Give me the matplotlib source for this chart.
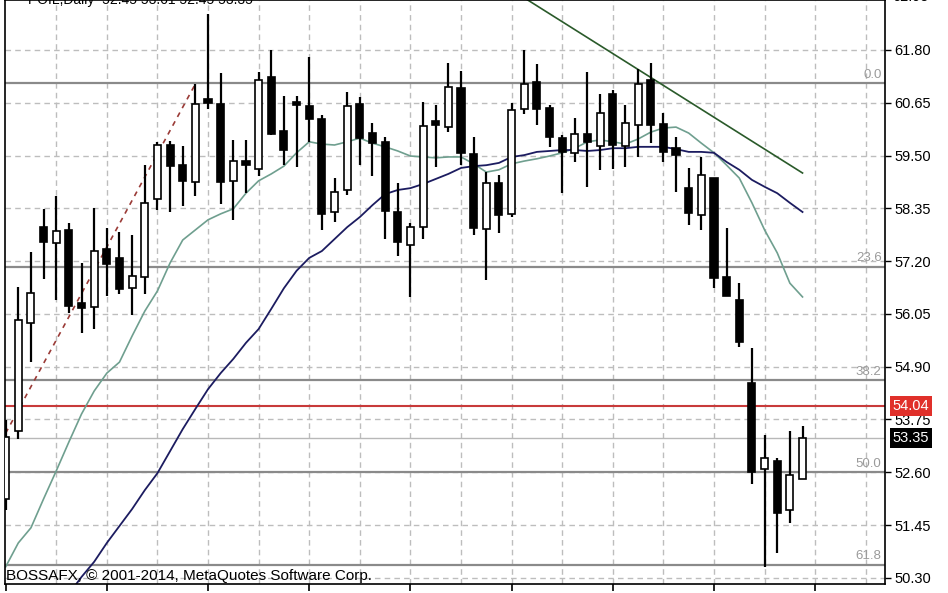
import matplotlib.pyplot as plt
import numpy as np
from matplotlib.patches import Rectangle

# daily candles (open, high, low, close)
opens = [52.02, 53.50, 55.85, 57.94, 57.60, 57.88, 56.29, 56.20, 57.46, 57.27,
         56.61, 56.85, 58.55, 59.73, 59.29, 58.92, 60.73, 60.62, 58.95, 59.38,
         59.21, 61.21, 60.04, 60.67, 60.58, 60.30, 58.27, 58.75, 60.62, 59.99,
         59.80, 58.27, 57.55, 57.94, 60.25, 60.12, 60.97, 59.53, 57.90, 58.90,
         58.23, 60.51, 61.10, 60.54, 59.88, 59.56, 59.97, 59.71, 60.84, 59.71,
         60.17, 61.15, 60.19, 59.66, 58.79, 58.21, 59.01, 56.85, 56.35, 54.54,
         52.67, 52.85, 51.78, 52.45]
highs = [53.74, 56.64, 57.40, 58.34, 58.62, 58.03, 57.16, 58.36, 57.92, 57.84,
         57.77, 59.29, 59.80, 59.82, 59.71, 61.06, 62.58, 61.30, 59.84, 59.84,
         61.32, 61.80, 60.80, 60.80, 61.65, 60.38, 59.01, 60.89, 60.78, 60.21,
         59.90, 58.90, 58.03, 60.67, 60.60, 61.52, 61.34, 59.90, 59.14, 59.08,
         60.65, 61.80, 61.50, 60.60, 59.95, 60.32, 61.32, 60.84, 60.93, 60.60,
         61.39, 61.52, 60.43, 59.90, 59.23, 59.47, 59.01, 57.92, 56.72, 55.31,
         53.41, 52.91, 53.50, 53.61]
lows = [51.78, 53.33, 55.00, 56.81, 56.35, 56.07, 55.63, 55.72, 56.44, 56.48,
        56.03, 56.48, 58.31, 58.27, 58.40, 58.62, 60.51, 58.44, 58.10, 58.68,
        59.06, 59.95, 59.29, 59.25, 59.80, 57.88, 58.05, 58.64, 59.29, 59.06,
        57.68, 57.31, 56.42, 57.68, 59.25, 60.01, 59.29, 57.77, 56.79, 57.81,
        58.16, 60.41, 60.17, 59.69, 58.68, 59.36, 58.82, 59.19, 59.21, 59.25,
        59.47, 59.77, 59.36, 58.71, 57.99, 57.88, 56.61, 56.44, 55.33, 52.34,
        50.54, 50.84, 51.50, 52.45]
closes = [53.37, 55.92, 56.51, 57.62, 57.86, 56.22, 56.18, 57.42, 57.14, 56.59,
          56.88, 58.47, 59.73, 59.27, 58.95, 60.62, 60.65, 58.92, 59.38, 59.29,
          61.15, 59.97, 59.62, 60.60, 60.30, 58.23, 58.71, 60.58, 59.88, 59.77,
          58.29, 57.62, 57.94, 60.14, 60.17, 60.99, 59.56, 57.92, 58.90, 58.21,
          60.49, 61.06, 60.51, 59.90, 59.58, 59.97, 59.80, 60.43, 59.73, 60.21,
          61.06, 60.17, 59.58, 59.51, 58.25, 59.08, 56.83, 56.44, 55.44, 52.61,
          52.91, 51.71, 52.54, 53.35]

# moving averages as drawn
ma_fast = [50.54, 51.06, 51.39, 52.02, 52.63, 53.26, 53.87, 54.37, 54.76, 55.00,
           55.57, 56.11, 56.55, 57.16, 57.66, 57.88, 58.10, 58.23, 58.34, 58.68,
           58.95, 59.10, 59.27, 59.56, 59.80, 59.75, 59.73, 59.80, 59.88, 59.77,
           59.69, 59.60, 59.49, 59.47, 59.45, 59.47, 59.47, 59.32, 59.14, 59.19,
           59.32, 59.38, 59.43, 59.49, 59.56, 59.66, 59.80, 59.84, 59.80, 59.75,
           59.86, 60.01, 60.10, 60.12, 59.99, 59.77, 59.56, 59.29, 59.01, 58.47,
           57.88, 57.38, 56.72, 56.42]
ma_slow_start = 5
ma_slow = [49.95, 50.32, 50.65, 51.06, 51.43, 51.80, 52.21, 52.58, 53.06, 53.54,
           53.98, 54.41, 54.76, 55.07, 55.42, 55.72, 56.16, 56.61, 56.99, 57.27,
           57.42, 57.68, 57.94, 58.16, 58.42, 58.66, 58.75, 58.79, 58.88, 58.99,
           59.10, 59.23, 59.27, 59.29, 59.34, 59.47, 59.51, 59.58, 59.60, 59.62,
           59.62, 59.60, 59.62, 59.66, 59.66, 59.69, 59.69, 59.69, 59.64, 59.58,
           59.58, 59.56, 59.36, 59.19, 58.97, 58.82, 58.68, 58.47, 58.27]

trend_x = [40, 63]
trend_y = [63.11, 59.12]
fib_trend_x = [0, 15]
fib_trend_y = [53.45, 61.06]

fib_levels = [61.08, 57.08, 54.60, 52.60, 50.59]
fib_labels = ["0.0", "23.6", "38.2", "50.0", "61.8"]
price_ticks = [50.30, 51.45, 52.60, 53.75, 54.90, 56.05, 57.20, 58.35, 59.50, 60.65, 61.80]
alert_price = 54.04
last_price = 53.35

plt.rcParams['font.family'] = ['Liberation Sans', 'DejaVu Sans']

W, H = 948, 593
fig = plt.figure(figsize=(W / 100, H / 100), dpi=100)
ax = fig.add_axes([5 / W, 9 / H, 880 / W, 584 / H])
n = len(closes)
xs = np.arange(n)

ax.set_xlim(-0.05, 69.52)
ax.set_ylim(50.166, 62.889)

# grid
for p in price_ticks:
    ax.axhline(p, color='#bdbdbd', lw=1, ls=(0, (4, 3)), zorder=0)
for k in range(4, 70, 4):
    ax.axvline(k, color='#bdbdbd', lw=1, ls=(0, (4, 3)), zorder=0)

# fibonacci levels
for lv, lb in zip(fib_levels, fib_labels):
    ax.axhline(lv, color='#8a8a8a', lw=1.6, zorder=1)
    ax.text(69.25, lv + 0.05, lb, ha='right', va='bottom', fontsize=9.5, color='#9a9a9a', zorder=1)
ax.axhline(alert_price, color='#c83a3a', lw=1.5, zorder=1)
ax.axhline(last_price, color='#b8b8b8', lw=1, zorder=1)

# moving averages and trend lines
ax.plot(xs, ma_fast, color='#6f9f8f', lw=1.2, zorder=2)
ax.plot(np.arange(ma_slow_start, ma_slow_start + len(ma_slow)), ma_slow, color='#1c1c60', lw=1.3, zorder=2)
ax.plot(trend_x, trend_y, color='#2a5a2a', lw=1.2, zorder=2)
ax.plot(fib_trend_x, fib_trend_y, color='#9a3a36', lw=1.2, ls=(0, (3, 3)), zorder=2)

# candles
for i in range(n):
    o, h, l, c = opens[i], highs[i], lows[i], closes[i]
    ax.plot([i, i], [l, h], color='black', lw=1.6, zorder=3, solid_capstyle='butt')
    fc = 'white' if c >= o else 'black'
    ax.add_patch(Rectangle((i - 0.28, min(o, c)), 0.56, max(abs(c - o), 0.04),
                           facecolor=fc, edgecolor='black', lw=1.2, zorder=4))

# axes styling
for s in ax.spines.values():
    s.set_color('black')
    s.set_linewidth(1.2)
ax.yaxis.tick_right()
ax.set_yticks(price_ticks)
ax.set_yticklabels([f"{p:.2f}" for p in price_ticks])
ax.tick_params(axis='y', direction='out', length=4, width=1, pad=3, labelsize=10.5)
ax.set_xticks(range(0, 70, 8))
ax.set_xticklabels([])
ax.tick_params(axis='x', direction='out', length=5, width=1.2)

# price boxes on the right
ax.text(1.0085, alert_price, f"{alert_price:.2f}", transform=ax.get_yaxis_transform(),
        ha='left', va='center', fontsize=10.5, color='white', zorder=6, clip_on=False,
        bbox=dict(boxstyle='square,pad=0.2', fc='#e0302a', ec='none'))
ax.text(1.0085, last_price, f"{last_price:.2f}", transform=ax.get_yaxis_transform(),
        ha='left', va='center', fontsize=10.5, color='white', zorder=6, clip_on=False,
        bbox=dict(boxstyle='square,pad=0.2', fc='black', ec='none'))
ax.text(1.0085, 62.95, "62.95", transform=ax.get_yaxis_transform(), ha='left', va='center',
        fontsize=10.5, clip_on=False)

# header and copyright
fig.text(28 / W, (H - 4) / H, "POIL,Daily  52.45 53.61 52.45 53.35", fontsize=10, va='baseline')
ax.text(0.006, 50.19, "BOSSAFX, © 2001-2014, MetaQuotes Software Corp.", fontsize=11,
        va='bottom', ha='left', zorder=5)

fig.savefig("out.png", dpi=100)
